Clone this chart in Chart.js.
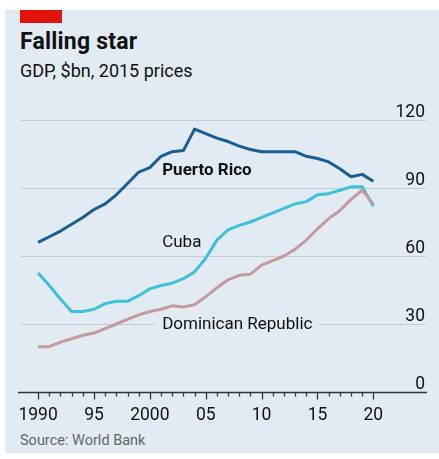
<!DOCTYPE html>
<html>
<head>
<meta charset="utf-8">
<script src="https://cdn.jsdelivr.net/npm/chart.js@4"></script>
<style>
  body { margin: 0; background: #fff; font-family: Roboto, 'Open Sans', sans-serif; }
  #wrap { position: relative; width: 439px; height: 459px; overflow: hidden; }
  #panel { position: absolute; left: 5px; top: 10px; width: 434px; height: 443px; background: #e2ebf2; }
  #flag { position: absolute; left: 20px; top: 10px; width: 42px; height: 13px; background: #e3120b; }
  .txt { position: absolute; left: 20px; white-space: nowrap; color: #111; }
  #title { top: 30px; font-size: 23px; font-weight: 700; line-height: 24px; letter-spacing: 0.2px; }
  #subtitle { top: 61px; font-size: 18px; line-height: 20px; }
  #source { top: 432px; font-size: 14.5px; line-height: 18px; color: #666; }
  #chartBox { position: absolute; left: 0; top: 0; width: 439px; height: 459px; }
</style>
</head>
<body>
<div id="wrap">
  <div id="panel"></div>
  <div id="flag"></div>
  <div class="txt" id="title">Falling star</div>
  <div class="txt" id="subtitle">GDP, $bn, 2015 prices</div>
  <div class="txt" id="source">Source: World Bank</div>
  <div id="chartBox"><canvas id="gdpChart" width="439" height="459"></canvas></div>
</div>
<script>
const years = [1990, 1991, 1992, 1993, 1994, 1995, 1996, 1997, 1998, 1999,
               2000, 2001, 2002, 2003, 2004, 2005, 2006, 2007, 2008, 2009,
               2010, 2011, 2012, 2013, 2014, 2015, 2016, 2017, 2018, 2019, 2020];
const puertoRico = [66, 68.5, 71, 74, 77, 80.5, 83, 87, 92, 97,
                    99, 104, 106, 106.5, 116, 114, 112, 110.5, 108.5, 107,
                    106, 106, 106, 106, 104, 103, 101.5, 98.5, 95, 96, 93];
const cuba = [52.5, 47, 41, 35.5, 35.5, 36.5, 39, 40, 40, 42.5,
              45.5, 47, 48, 50, 53, 59, 67, 71.5, 73.5, 75,
              77, 79, 81, 83, 84, 87, 87.5, 89, 90.5, 90.5, 82];
const dominicanRep = [20, 20, 22, 23.5, 25, 26, 28, 30, 32, 34,
                      35.5, 36.5, 38, 37.5, 38.5, 42, 46, 49.5, 51.5, 52,
                      56, 58, 60, 63, 67, 72, 76.5, 80, 85, 89, 83];
const yTicks = [0, 30, 60, 90, 120];
const xTicks = [1990, 1995, 2000, 2005, 2010, 2015, 2020];
const xTickLabels = ['1990', '95', '2000', '05', '10', '15', '20'];
const seriesLabels = [
  { text: 'Puerto Rico', x: 1990 + 11.1, y: 97.5, bold: true },
  { text: 'Cuba', x: 1990 + 11.1, y: 66, bold: false },
  { text: 'Dominican Republic', x: 1990 + 11.1, y: 29.6, bold: false }
];

const BG = '#e2ebf2';
const FONT = 'Roboto, "Open Sans", sans-serif';

function pts(vals) { return vals.map((v, i) => ({ x: years[i], y: v })); }

const econPlugin = {
  id: 'econ',
  beforeDatasetsDraw(chart) {
    const { ctx, chartArea, scales: { x, y } } = chart;
    ctx.save();
    // horizontal gridlines + right-hand value labels
    ctx.strokeStyle = '#c3cbd3';
    ctx.lineWidth = 1;
    ctx.font = '17.5px ' + FONT;
    ctx.fillStyle = '#111';
    ctx.textAlign = 'right';
    ctx.textBaseline = 'alphabetic';
    yTicks.forEach(t => {
      const py = Math.round(y.getPixelForValue(t)) + 0.5;
      if (t > 0) {
        ctx.beginPath();
        ctx.moveTo(chartArea.left + 2, py);
        ctx.lineTo(chartArea.right - 1, py);
        ctx.stroke();
      }
      ctx.fillText(String(t), chartArea.right - 2, py - 4);
    });
    // series labels, with a background box that breaks the gridline
    ctx.textAlign = 'left';
    ctx.textBaseline = 'middle';
    seriesLabels.forEach(l => {
      ctx.font = (l.bold ? '700 ' : '') + '17px ' + FONT;
      const px = x.getPixelForValue(l.x);
      const py = y.getPixelForValue(l.y);
      const w = ctx.measureText(l.text).width;
      ctx.fillStyle = BG;
      ctx.fillRect(px - 7, py - 8, w + 14, 16);
      ctx.fillStyle = '#111';
      ctx.fillText(l.text, px, py);
    });
    ctx.restore();
  },
  afterDatasetsDraw(chart) {
    const { ctx, chartArea, scales: { x, y } } = chart;
    ctx.save();
    const y0 = Math.round(y.getPixelForValue(0)) + 0.5;
    ctx.strokeStyle = '#333';
    ctx.lineWidth = 1.5;
    ctx.beginPath();
    ctx.moveTo(chartArea.left, y0);
    ctx.lineTo(chartArea.right, y0);
    ctx.stroke();
    // yearly ticks, longer every five years
    ctx.lineWidth = 1.3;
    for (let yr = years[0]; yr <= years[years.length - 1]; yr++) {
      const px = Math.round(x.getPixelForValue(yr)) + 0.5;
      ctx.beginPath();
      ctx.moveTo(px, y0);
      ctx.lineTo(px, y0 + (yr % 5 === 0 ? 7 : 4));
      ctx.stroke();
    }
    ctx.fillStyle = '#111';
    ctx.font = '17.5px ' + FONT;
    ctx.textAlign = 'center';
    ctx.textBaseline = 'alphabetic';
    xTicks.forEach((t, i) => {
      ctx.fillText(xTickLabels[i], x.getPixelForValue(t), y0 + 27);
    });
    ctx.restore();
  }
};

new Chart(document.getElementById('gdpChart'), {
  type: 'line',
  data: {
    datasets: [
      { label: 'Dominican Republic', data: pts(dominicanRep), borderColor: '#c29a9f', borderWidth: 3 },
      { label: 'Cuba', data: pts(cuba), borderColor: '#3dc0d8', borderWidth: 3 },
      { label: 'Puerto Rico', data: pts(puertoRico), borderColor: '#1a5d94', borderWidth: 3 }
    ]
  },
  options: {
    responsive: false,
    animation: false,
    layout: { padding: { left: 18, right: 12, top: 120, bottom: 67 } },
    elements: { point: { radius: 0 }, line: { tension: 0, borderJoinStyle: 'round', borderCapStyle: 'butt' } },
    plugins: { legend: { display: false }, tooltip: { enabled: false } },
    scales: {
      x: { type: 'linear', min: 1988.2, max: 2024.8, display: false },
      y: { min: 0, max: 120, display: false }
    }
  },
  plugins: [econPlugin]
});
</script>
</body>
</html>
